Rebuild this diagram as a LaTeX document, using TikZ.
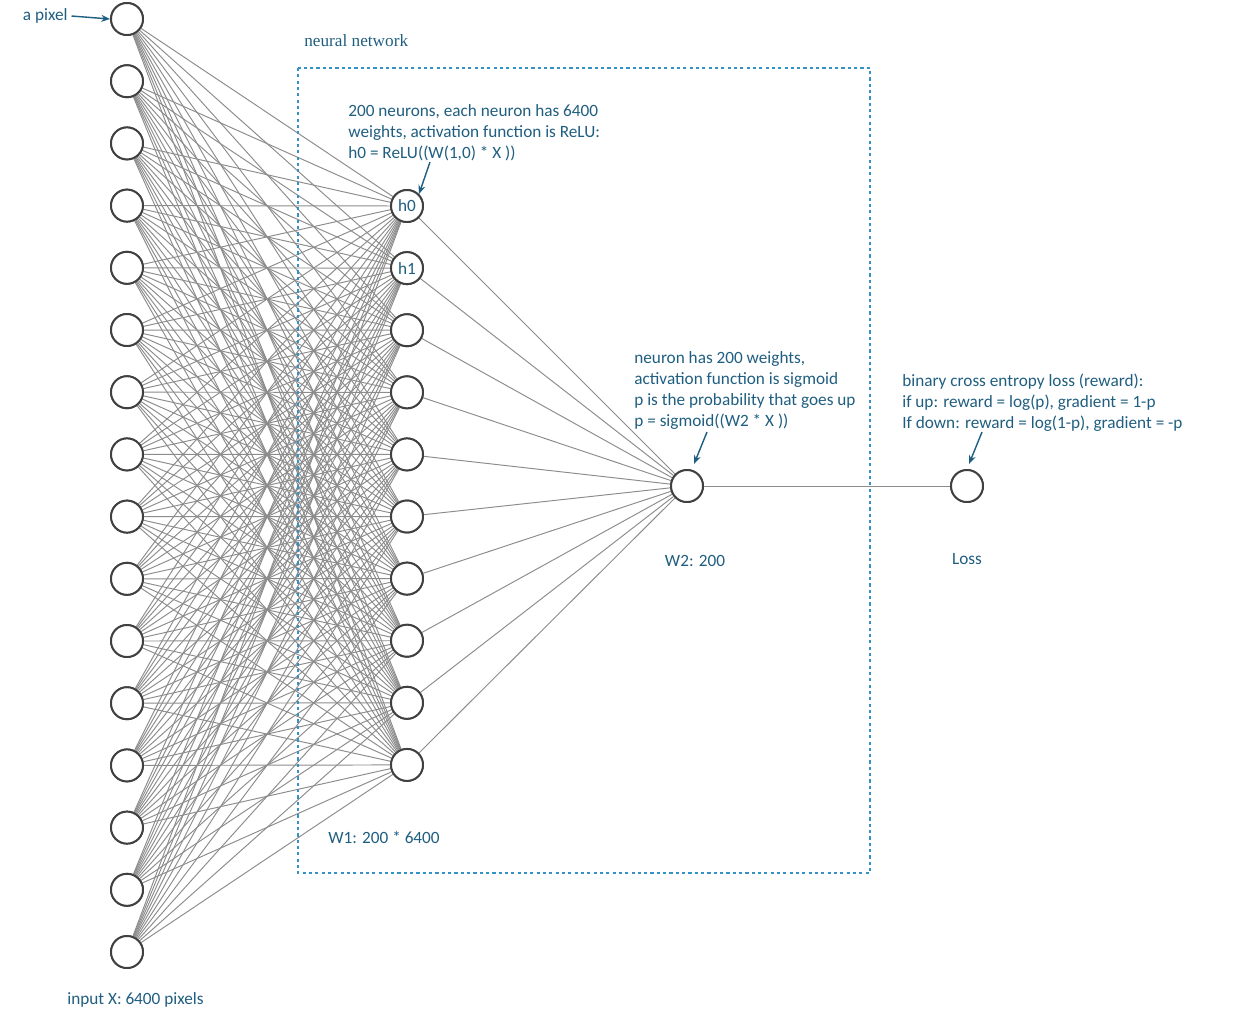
\documentclass[tikz,border=0pt]{standalone}
\usepackage{fontspec}
\setmainfont{Carlito}
\newfontfamily\nnserif{Liberation Serif}
\usepackage{tikz}
\usetikzlibrary{arrows.meta}
\definecolor{nntext}{HTML}{1F5E80}
\definecolor{nnbox}{HTML}{3592C4}
\definecolor{nnedge}{HTML}{8C8C8C}

\begin{document}
\begin{tikzpicture}[x=0.02cm,y=-0.02cm,
	neuron/.style={circle,draw=black!75,line width=1.1pt,fill=white,minimum size=0.64cm,inner sep=0pt,text=nntext},
	weight/.style={draw=nnedge,line width=0.55pt},
	note/.style={text=nntext,align=left,inner sep=0pt,font=\fontsize{9.8}{11.9}\selectfont},
	pointer/.style={draw=nntext,line width=0.8pt,-{Stealth[length=5pt,width=4pt]}}]
			\useasboundingbox (0,0) rectangle (1247,1019);
			% layers
			\foreach \i in {0,...,15}
				\node [neuron] (x\i) at (127,19+62.2*\i) {};
			\foreach \j in {0,...,9}
				\node [neuron] (h\j) at (407,206+62.1*\j) {};
			\node [neuron] (p) at (687,486) {};
			\node [neuron] (loss) at (967,486) {};
			% weights
			\foreach \i in {0,...,15}
				\foreach \j in {0,...,9}
					\draw [weight] (x\i) -- (h\j);
			\foreach \j in {0,...,9}
				\draw [weight] (h\j) -- (p);
			\draw [weight] (p) -- (loss);
			% redraw nodes on top
			\foreach \i in {0,...,15}
				\node [neuron] at (x\i) {};
			\foreach \j in {2,...,9}
				\node [neuron] at (h\j) {};
			\node [neuron] at (h0) {\fontsize{9.8}{10}\selectfont h0};
			\node [neuron] at (h1) {\fontsize{9.8}{10}\selectfont h1};
			\node [neuron] at (p) {};
			\node [neuron] at (loss) {};
			% box
			\draw [draw=nnbox,line width=0.7pt,dash pattern=on 1.8pt off 1.8pt] (298,68) rectangle (870,873);
			\node [note,anchor=west,font=\nnserif\fontsize{9.8}{11}\selectfont] (nn) at (304,41) {neural network};
			% labels
			\node [note,anchor=east] (pix) at (68,16) {a pixel};
			\draw [pointer] ([xshift=2pt]pix.east) -- (x0.west);
			\node [note,anchor=north west] (hnote) at (348,104) {200 neurons, each neuron has 6400\\weights, activation function is ReLU:\\h0 = ReLU((W(1,0) * X ))};
			\coordinate (hn) at (430,162);
			\draw [pointer] (hn) -- (h0.north east);
			\node [note,anchor=north west] (pnote) at (634,351) {neuron has 200 weights,\\activation function is sigmoid\\p is the probability that goes up\\p = sigmoid((W2 * X ))};
			\coordinate (pn) at (707,432);
			\draw [pointer] (pn) -- (694,464);
			\node [note,anchor=north west] (lnote) at (902,374) {binary cross entropy loss (reward):\\if up: reward = log(p), gradient = 1-p\\If down: reward = log(1-p), gradient = -p};
			\coordinate (ln) at (982,432);
			\draw [pointer] (ln) -- (969,464);
			\node [note] (w2) at (695,561) {W2: 200};
			\node [note] (ll) at (967,559) {Loss};
			\node [note,anchor=west] (w1) at (328,837) {W1: 200 * 6400};
			\node [note,anchor=west] (inp) at (67,1000) {input X: 6400 pixels};
\end{tikzpicture}
\end{document}
